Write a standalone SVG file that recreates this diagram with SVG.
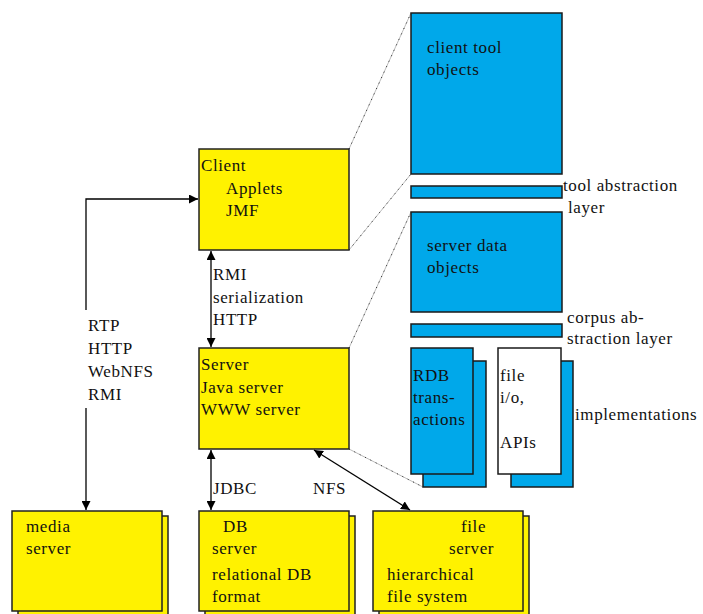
<svg xmlns="http://www.w3.org/2000/svg" width="703" height="614" viewBox="0 0 703 614">
<defs>
<marker id="ah" viewBox="0 0 10 10" refX="10" refY="5" markerWidth="9" markerHeight="9" markerUnits="userSpaceOnUse" orient="auto-start-reverse">
<path d="M0,0 L10,5 L0,10 z" fill="#000"/>
</marker>
<style>
text{font-family:"Liberation Serif","Times New Roman",serif;font-size:17px;fill:#111;letter-spacing:0.6px}
.y{fill:#FFF200;stroke:#222;stroke-width:1.5}
.b{fill:#00A8EA;stroke:#1a1a1a;stroke-width:1.5}
.w{fill:#fff;stroke:#1a1a1a;stroke-width:1.5}
.c{fill:none;stroke:#000;stroke-width:1.3}
.g{fill:none;stroke:#aaa;stroke-width:0.8}
.d{fill:none;stroke:#000;stroke-width:0.8;stroke-dasharray:1 5}
</style>
</defs>
<rect width="703" height="614" fill="#fff"/>
<g id="zoomlines">
<path class="g" d="M349,149 L411,13 M349,250 L411,174 M349,348 L411,212 M349,449 L423,487"/>
<path class="d" d="M349,149 L411,13 M349,250 L411,174 M349,348 L411,212 M349,449 L423,487"/>
</g>
<g id="client">
<rect class="y" x="199" y="149" width="150" height="101"/>
<text x="201" y="171">Client</text>
<text x="226" y="194">Applets</text>
<text x="226" y="216">JMF</text>
</g>
<g id="server">
<rect class="y" x="199" y="348" width="150" height="101"/>
<text x="201" y="370">Server</text>
<text x="201" y="393">Java server</text>
<text x="201" y="415">WWW server</text>
</g>
<g id="media-server">
<rect class="y" x="18" y="516" width="150" height="100"/>
<rect class="y" x="12" y="511" width="150" height="100"/>
<text x="26" y="532">media</text>
<text x="26" y="554">server</text>
</g>
<g id="db-server">
<rect class="y" x="205" y="516" width="150" height="100"/>
<rect class="y" x="199" y="511" width="150" height="100"/>
<text x="223" y="532">DB</text>
<text x="212" y="554">server</text>
<text x="212" y="580">relational DB</text>
<text x="212" y="602">format</text>
</g>
<g id="file-server">
<rect class="y" x="379" y="516" width="150" height="100"/>
<rect class="y" x="373" y="511" width="150" height="100"/>
<text x="461" y="532">file</text>
<text x="449" y="554">server</text>
<text x="387" y="580">hierarchical</text>
<text x="387" y="602">file system</text>
</g>
<g id="client-tool-objects">
<rect class="b" x="411" y="13" width="151" height="161"/>
<text x="427" y="53">client tool</text>
<text x="427" y="75">objects</text>
</g>
<g id="tool-abstraction-layer">
<rect class="b" x="411" y="186" width="151" height="12"/>
<text x="563" y="191">tool abstraction</text>
<text x="568" y="213">layer</text>
</g>
<g id="server-data-objects">
<rect class="b" x="411" y="212" width="151" height="100"/>
<text x="427" y="251">server data</text>
<text x="427" y="273">objects</text>
</g>
<g id="corpus-abstraction-layer">
<rect class="b" x="411" y="324" width="151" height="13"/>
<text x="567" y="323">corpus ab-</text>
<text x="567" y="344">straction layer</text>
</g>
<g id="rdb-transactions">
<rect class="b" x="423" y="361" width="63" height="126"/>
<rect class="b" x="411" y="348" width="62" height="126"/>
<text x="413" y="381">RDB</text>
<text x="413" y="403">trans-</text>
<text x="413" y="425">actions</text>
</g>
<g id="file-io-apis">
<rect class="b" x="511" y="361" width="62" height="126"/>
<rect class="w" x="498" y="348" width="63" height="126"/>
<text x="500" y="381">file</text>
<text x="500" y="403">i/o,</text>
<text x="500" y="448">APIs</text>
</g>
<g id="implementations">
<text x="575" y="420">implementations</text>
</g>
<g id="connectors">
<path class="c" d="M86,310 L86,199 L198,199" marker-end="url(#ah)"/>
<path class="c" d="M86,408 L86,510" marker-end="url(#ah)"/>
<path class="c" d="M211,251 L211,347" marker-start="url(#ah)" marker-end="url(#ah)"/>
<path class="c" d="M211,450 L211,510" marker-start="url(#ah)" marker-end="url(#ah)"/>
<path class="c" d="M314,450 L410,510" marker-start="url(#ah)" marker-end="url(#ah)"/>
<text x="88" y="331">RTP</text>
<text x="88" y="354">HTTP</text>
<text x="88" y="377">WebNFS</text>
<text x="88" y="400">RMI</text>
<text x="213" y="280">RMI</text>
<text x="213" y="303">serialization</text>
<text x="213" y="325">HTTP</text>
<text x="213" y="494">JDBC</text>
<text x="313" y="494">NFS</text>
</g>
</svg>
